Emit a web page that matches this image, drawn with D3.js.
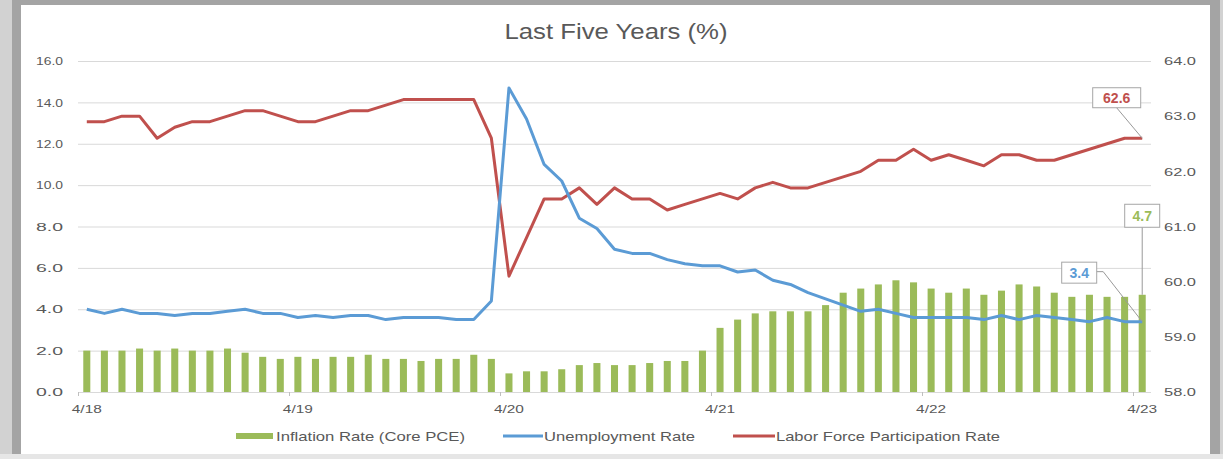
<!DOCTYPE html>
<html>
<head>
<meta charset="utf-8">
<script src="https://cdn.jsdelivr.net/npm/d3@7"></script>
<style>
  body { margin: 0; background: #fff; }
  svg { display: block; font-family: "Liberation Sans", Arial, sans-serif; }
</style>
</head>
<body>
<div id="chart"></div>
<script>
// monthly data, 4/18 .. 4/23
var months = d3.timeMonths(new Date(2018, 3, 1), new Date(2023, 4, 1));
var tickLabels = ["4/18", "4/19", "4/20", "4/21", "4/22", "4/23"];

var inflation = [2.0, 2.0, 2.0, 2.1, 2.0, 2.1, 2.0, 2.0, 2.1, 1.9, 1.7, 1.6,
  1.7, 1.6, 1.7, 1.7, 1.8, 1.6, 1.6, 1.5, 1.6, 1.6, 1.8, 1.6,
  0.9, 1.0, 1.0, 1.1, 1.3, 1.4, 1.3, 1.3, 1.4, 1.5, 1.5, 2.0,
  3.1, 3.5, 3.8, 3.9, 3.9, 3.9, 4.2, 4.8, 5.0, 5.2, 5.4, 5.3,
  5.0, 4.8, 5.0, 4.7, 4.9, 5.2, 5.1, 4.8, 4.6, 4.7, 4.6, 4.6, 4.7];

var unemployment = [4.0, 3.8, 4.0, 3.8, 3.8, 3.7, 3.8, 3.8, 3.9, 4.0, 3.8, 3.8,
  3.6, 3.7, 3.6, 3.7, 3.7, 3.5, 3.6, 3.6, 3.6, 3.5, 3.5, 4.4,
  14.7, 13.2, 11.0, 10.2, 8.4, 7.9, 6.9, 6.7, 6.7, 6.4, 6.2, 6.1,
  6.1, 5.8, 5.9, 5.4, 5.2, 4.8, 4.5, 4.2, 3.9, 4.0, 3.8, 3.6,
  3.6, 3.6, 3.6, 3.5, 3.7, 3.5, 3.7, 3.6, 3.5, 3.4, 3.6, 3.4, 3.4];

var participation = [62.9, 62.9, 63.0, 63.0, 62.6, 62.8, 62.9, 62.9, 63.0, 63.1, 63.1, 63.0,
  62.9, 62.9, 63.0, 63.1, 63.1, 63.2, 63.3, 63.3, 63.3, 63.3, 63.3, 62.6,
  60.1, 60.8, 61.5, 61.5, 61.7, 61.4, 61.7, 61.5, 61.5, 61.3, 61.4, 61.5,
  61.6, 61.5, 61.7, 61.8, 61.7, 61.7, 61.8, 61.9, 62.0, 62.2, 62.2, 62.4,
  62.2, 62.3, 62.2, 62.1, 62.3, 62.3, 62.2, 62.2, 62.3, 62.4, 62.5, 62.6, 62.6];

var leftTicks = [0, 2, 4, 6, 8, 10, 12, 14, 16];
var rightTicks = [58, 59, 60, 61, 62, 63, 64];

var W = 1223, H = 459;
var plot = {left: 78, right: 1151, top: 61, bottom: 392};
var green = "#9bbb59", blue = "#5b9bd5", red = "#c0504d", textCol = "#595959";

var svg = d3.select("#chart").append("svg")
  .attr("width", W).attr("height", H);

// frame around the chart
svg.append("rect").attr("width", W).attr("height", H).attr("fill", "#d2d2d2");
svg.append("rect").attr("x", 12).attr("y", 0).attr("width", 1208).attr("height", H).attr("fill", "#a4a4a4");
svg.append("rect").attr("x", 0).attr("y", 454).attr("width", W).attr("height", 5).attr("fill", "#e6e6e6");
svg.append("rect").attr("x", 21).attr("y", 5).attr("width", 1189).attr("height", 449).attr("fill", "#fff");

var x = d3.scaleBand()
  .domain(d3.range(months.length))
  .range([plot.left, plot.right])
  .paddingInner(0.6).paddingOuter(0.3);
var step = x.step();
var cx = function(i) { return x(i) + x.bandwidth() / 2; };

var yL = d3.scaleLinear().domain([0, 16]).range([plot.bottom, plot.top]);
var yR = d3.scaleLinear().domain([58, 64]).range([plot.bottom, plot.top]);

// title
svg.append("text")
  .attr("x", 616).attr("y", 38.5)
  .attr("text-anchor", "middle")
  .attr("font-size", 22).attr("fill", textCol)
  .attr("textLength", 223).attr("lengthAdjust", "spacingAndGlyphs")
  .text("Last Five Years (%)");

// gridlines
svg.append("g").selectAll("line")
  .data(leftTicks.slice(1))
  .enter().append("line")
  .attr("x1", plot.left).attr("x2", plot.right)
  .attr("y1", function(d) { return yL(d) + 0.5; })
  .attr("y2", function(d) { return yL(d) + 0.5; })
  .attr("stroke", "#d9d9d9").attr("stroke-width", 1);

// left axis
var axL = svg.append("g")
  .attr("transform", "translate(" + (plot.left - 15) + ",0)")
  .call(d3.axisLeft(yL).tickValues(leftTicks).tickFormat(d3.format(".1f")).tickSize(0).tickPadding(0));
axL.select(".domain").remove();
axL.selectAll("text")
  .attr("fill", textCol).attr("font-size", 11.5)
  .attr("textLength", 27).attr("lengthAdjust", "spacingAndGlyphs")
  .attr("font-family", "Liberation Sans, Arial, sans-serif");

// right axis
var axR = svg.append("g")
  .attr("transform", "translate(" + (plot.right + 13) + ",0)")
  .call(d3.axisRight(yR).tickValues(rightTicks).tickFormat(d3.format(".1f")).tickSize(0).tickPadding(0));
axR.select(".domain").remove();
axR.selectAll("text")
  .attr("fill", textCol).attr("font-size", 11.5)
  .attr("textLength", 32).attr("lengthAdjust", "spacingAndGlyphs")
  .attr("font-family", "Liberation Sans, Arial, sans-serif");

// bars
svg.append("g").selectAll("rect")
  .data(inflation)
  .enter().append("rect")
  .attr("x", function(d, i) { return x(i); })
  .attr("width", x.bandwidth())
  .attr("y", function(d) { return yL(d); })
  .attr("height", function(d) { return yL(0) - yL(d); })
  .attr("fill", green);

// bottom axis
svg.append("line")
  .attr("x1", plot.left).attr("x2", plot.right)
  .attr("y1", plot.bottom + 0.5).attr("y2", plot.bottom + 0.5)
  .attr("stroke", "#d9d9d9");
var tickIdx = tickLabels.map(function(t, k) { return k * 12; });
svg.append("g").selectAll("line")
  .data(tickIdx)
  .enter().append("line")
  .attr("x1", function(i) { return Math.round(cx(i) - step / 2) + 0.5; })
  .attr("x2", function(i) { return Math.round(cx(i) - step / 2) + 0.5; })
  .attr("y1", plot.bottom).attr("y2", plot.bottom + 4)
  .attr("stroke", "#bfbfbf");
svg.append("g").selectAll("text")
  .data(tickIdx)
  .enter().append("text")
  .attr("x", function(i) { return cx(i); })
  .attr("y", plot.bottom + 21)
  .attr("text-anchor", "middle")
  .attr("font-size", 11.5).attr("fill", textCol)
  .attr("textLength", 30).attr("lengthAdjust", "spacingAndGlyphs")
  .text(function(i, k) { return tickLabels[k]; });

// lines
var lineL = d3.line().x(function(d, i) { return cx(i); }).y(function(d) { return yL(d); });
var lineR = d3.line().x(function(d, i) { return cx(i); }).y(function(d) { return yR(d); });

svg.append("path").datum(participation)
  .attr("d", lineR).attr("fill", "none")
  .attr("stroke", red).attr("stroke-width", 3).attr("stroke-linejoin", "round");
svg.append("path").datum(unemployment)
  .attr("d", lineL).attr("fill", "none")
  .attr("stroke", blue).attr("stroke-width", 3).attr("stroke-linejoin", "round");

// data labels on last point
var last = months.length - 1;
function callout(px, py, bx, by, bw, bh, path, txt, col) {
  svg.append("path")
    .attr("d", d3.line()(path))
    .attr("fill", "none").attr("stroke", "#999").attr("stroke-width", 1);
  svg.append("rect")
    .attr("x", bx + 0.5).attr("y", by + 0.5).attr("width", bw).attr("height", bh)
    .attr("fill", "#fff").attr("stroke", "#a6a6a6");
  svg.append("text")
    .attr("x", bx + bw / 2 + 0.5).attr("y", by + bh / 2 + 5.5)
    .attr("text-anchor", "middle")
    .attr("font-size", 14).attr("font-weight", "bold").attr("fill", col)
    .text(txt);
}
var px = cx(last);
var pR = yR(participation[last]);
callout(px, pR, px - 50, pR - 51, 48, 20,
  [[px - 26, pR - 31], [px, pR]], participation[last].toFixed(1), red);
var pU = yL(unemployment[last]);
callout(px, pU, px - 81, pU - 60, 35, 21,
  [[px - 46, pU - 50], [px - 39, pU - 50], [px, pU]], unemployment[last].toFixed(1), blue);
var pI = yL(inflation[last]);
callout(px, pI, px - 18, pI - 91, 35, 23,
  [[px, pI - 68], [px, pI]], inflation[last].toFixed(1), green);

// legend
var lg = svg.append("g").attr("transform", "translate(0,436)");
lg.append("rect").attr("x", 236).attr("y", -3).attr("width", 37).attr("height", 6).attr("fill", green);
lg.append("line").attr("x1", 503).attr("x2", 543).attr("y1", 0).attr("y2", 0).attr("stroke", blue).attr("stroke-width", 3);
lg.append("line").attr("x1", 733).attr("x2", 775).attr("y1", 0).attr("y2", 0).attr("stroke", red).attr("stroke-width", 3);
var legendItems = [
  {x: 276, w: 189, t: "Inflation Rate (Core PCE)"},
  {x: 544, w: 151, t: "Unemployment Rate"},
  {x: 776, w: 224, t: "Labor Force Participation Rate"}
];
lg.selectAll("text.lab")
  .data(legendItems)
  .enter().append("text")
  .attr("class", "lab")
  .attr("x", function(d) { return d.x; })
  .attr("y", 4.5)
  .attr("font-size", 13).attr("fill", textCol)
  .attr("textLength", function(d) { return d.w; }).attr("lengthAdjust", "spacingAndGlyphs")
  .text(function(d) { return d.t; });
</script>
</body>
</html>
